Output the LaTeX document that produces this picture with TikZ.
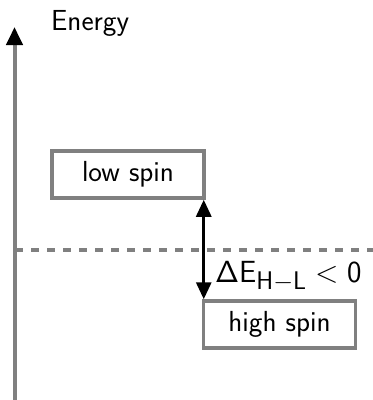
\documentclass[tikz,border=0pt]{standalone}
\usetikzlibrary{arrows.meta}
\begin{document}
\begin{tikzpicture}[x=1pt,y=-1pt,
  lvl/.style={draw=gray,line width=3.5pt,minimum width=152pt,minimum height=47pt,inner sep=0pt,font=\fontsize{29}{34}\selectfont\sffamily},
  txt/.style={font=\fontsize{29}{34}\selectfont\sffamily,inner sep=0pt}]
\useasboundingbox (0,0) rectangle (373,400);
\coordinate (abot) at (14.5,400);
\coordinate (atop) at (14.5,27);
\coordinate (dl) at (15,250);
\coordinate (dr) at (373,250);
\draw[gray,line width=3.5pt,dash pattern=on 8pt off 8pt] (dl) -- (dr);
\draw[gray,line width=4pt,-{Triangle[color=black,length=18pt,width=16pt]}] (abot) -- (atop);
\node[txt,anchor=base west] (en) at (51,30) {Energy};
\node[lvl] (ls) at (128,174.5) {low spin};
\node[lvl] (hs) at (279.5,324.5) {high spin};
\draw[line width=3pt,{Triangle[length=17pt,width=15pt]}-{Triangle[length=17pt,width=15pt]}] ([xshift=-2pt]ls.south east) -- ([xshift=-2pt]ls.south east |- hs.north west);
\node[txt,anchor=base west] (de) at (215,282) {\scalebox{1.23}{$\mathsf{\Delta E_{H-L}} < \mathsf{0}$}};
\end{tikzpicture}
\end{document}
